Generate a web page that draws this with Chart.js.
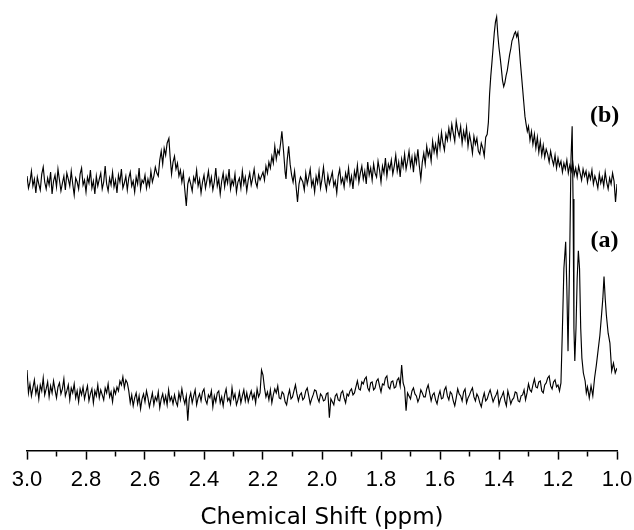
<!DOCTYPE html>
<html>
<head>
<meta charset="utf-8">
<script src="https://cdn.jsdelivr.net/npm/chart.js@4"></script>
<style>
  html, body { margin: 0; padding: 0; background: #fff; }
  #wrap { width: 634px; height: 530px; }
</style>
</head>
<body>
<div id="wrap"><canvas id="nmrCanvas" width="634" height="530"></canvas></div>
<script>
// x axis ticks (ppm), labelled every 0.2, minor ticks every 0.1
const tickLabels = ["3.0", "2.8", "2.6", "2.4", "2.2", "2.0", "1.8", "1.6", "1.4", "1.2", "1.0"];

// spectrum (b), upper trace
const shiftB = [
  3.000, 2.995, 2.990, 2.985, 2.980, 2.975, 2.970, 2.965, 2.960, 2.955,
  2.950, 2.945, 2.940, 2.935, 2.930, 2.925, 2.920, 2.915, 2.910, 2.905,
  2.900, 2.895, 2.890, 2.885, 2.880, 2.875, 2.870, 2.865, 2.860, 2.855,
  2.850, 2.845, 2.840, 2.835, 2.830, 2.825, 2.820, 2.815, 2.810, 2.805,
  2.800, 2.795, 2.790, 2.785, 2.780, 2.775, 2.770, 2.765, 2.760, 2.755,
  2.750, 2.745, 2.740, 2.735, 2.730, 2.725, 2.720, 2.715, 2.710, 2.705,
  2.700, 2.695, 2.690, 2.685, 2.680, 2.675, 2.670, 2.665, 2.660, 2.655,
  2.650, 2.645, 2.640, 2.635, 2.630, 2.625, 2.620, 2.615, 2.610, 2.605,
  2.600, 2.595, 2.590, 2.585, 2.580, 2.575, 2.570, 2.565, 2.560,
  2.555, 2.550, 2.545, 2.540, 2.535, 2.530, 2.525, 2.519, 2.515, 2.510, 2.505,
  2.500, 2.495, 2.490, 2.485, 2.480, 2.475, 2.470, 2.465, 2.460, 2.455, 2.450,
  2.445, 2.440, 2.435, 2.430, 2.425, 2.420, 2.415, 2.410, 2.405, 2.400,
  2.395, 2.390, 2.385, 2.380, 2.375, 2.370, 2.365, 2.360, 2.355, 2.350,
  2.345, 2.340, 2.335, 2.330, 2.325, 2.320, 2.315, 2.310, 2.305, 2.300,
  2.295, 2.290, 2.285, 2.280, 2.275, 2.270, 2.265, 2.260, 2.255, 2.250,
  2.245, 2.240, 2.235, 2.230, 2.225, 2.220, 2.215, 2.210,
  2.200, 2.195, 2.190, 2.185, 2.180, 2.175, 2.170, 2.165, 2.160, 2.155, 2.150, 2.145, 2.140,
  2.136, 2.130, 2.125, 2.122, 2.118, 2.113, 2.108, 2.103, 2.098, 2.093, 2.088, 2.083, 2.078, 2.073,
  2.065, 2.060, 2.055, 2.050, 2.045, 2.040, 2.035, 2.030, 2.025, 2.020,
  2.015, 2.010, 2.005, 2.000, 1.995, 1.990, 1.985, 1.980, 1.975, 1.970,
  1.965, 1.960, 1.955, 1.950, 1.945, 1.940, 1.935, 1.930, 1.925, 1.920,
  1.915, 1.910, 1.905, 1.900, 1.895, 1.890, 1.885, 1.880, 1.875, 1.870,
  1.865, 1.860, 1.855, 1.850, 1.845, 1.840, 1.835, 1.830, 1.825, 1.820,
  1.815, 1.810, 1.805, 1.800, 1.795, 1.790, 1.785, 1.780, 1.775, 1.770,
  1.765, 1.760, 1.755, 1.750, 1.745, 1.740, 1.735, 1.730, 1.725, 1.720,
  1.715, 1.710, 1.705, 1.700, 1.695, 1.690, 1.685, 1.680, 1.675, 1.670,
  1.665, 1.660, 1.655, 1.650, 1.645, 1.640, 1.635, 1.630, 1.625, 1.620,
  1.615, 1.610, 1.605, 1.600, 1.595, 1.590, 1.585, 1.580, 1.575, 1.570,
  1.565, 1.560, 1.555, 1.550, 1.545, 1.540, 1.535, 1.530, 1.525, 1.520,
  1.515, 1.510, 1.505, 1.500, 1.495, 1.490, 1.485, 1.480, 1.475, 1.470,
  1.465, 1.460, 1.455, 1.450, 1.445,
  1.440, 1.436, 1.432, 1.428, 1.424, 1.420, 1.416, 1.412, 1.408, 1.404, 1.400, 1.396,
  1.392, 1.388, 1.384, 1.380, 1.376, 1.372, 1.368, 1.364, 1.360, 1.356, 1.352, 1.348,
  1.344, 1.340, 1.336, 1.332, 1.328, 1.324, 1.320, 1.316, 1.312, 1.308, 1.304,
  1.300, 1.295, 1.290, 1.285, 1.280, 1.275, 1.270, 1.265, 1.260, 1.255,
  1.250, 1.245, 1.240, 1.235, 1.230, 1.225, 1.220, 1.215, 1.210, 1.205,
  1.200, 1.195, 1.190, 1.185, 1.180, 1.175, 1.170, 1.165, 1.160, 1.155,
  1.150, 1.145, 1.140, 1.135, 1.130, 1.125, 1.120, 1.115, 1.110, 1.105,
  1.100, 1.095, 1.090, 1.085, 1.080, 1.075, 1.070, 1.065, 1.060, 1.055,
  1.050, 1.045, 1.040, 1.035, 1.030, 1.025, 1.020, 1.015, 1.010, 1.005,
  1.000
];
const specB = [
  276, 264, 270, 281, 266, 273, 259, 275, 268, 262,
  278, 285, 270, 263, 274, 267, 280, 258, 271, 277,
  265, 283, 272, 261, 269, 276, 262, 279, 273, 266,
  281, 268, 257, 274, 270, 263, 278, 284, 267, 272,
  260, 275, 269, 282, 264, 271, 258, 276, 266, 273,
  279, 263, 270, 286, 268, 261, 274, 267, 280, 265,
  272, 259, 277, 270, 283, 264, 269, 276, 262, 274,
  280, 266, 271, 260, 275, 268, 284, 263, 272, 269,
  277, 264, 273, 266, 281, 270, 276, 285, 279,
  276, 292, 301, 288, 304, 297, 309, 314, 296, 278, 290,
  296, 283, 289, 276, 282, 270, 279, 262, 246, 268, 274,
  268, 261, 275, 270, 282, 266, 273, 259, 270, 277,
  264, 272, 281, 267, 275, 262, 270, 284, 266, 273,
  258, 271, 279, 265, 276, 269, 283, 263, 272, 267,
  278, 260, 270, 274, 264, 281, 268, 275, 261, 272,
  279, 267, 274, 283, 270, 265, 277, 272,
  280, 272, 286, 279, 290, 284, 296, 289, 306, 293, 302, 298, 310,
  321, 300, 280, 273, 292, 306, 288, 277, 270, 281, 266, 250, 268, 275,
  270, 262, 279, 268, 275, 283, 266, 272, 260, 276,
  269, 281, 264, 273, 285, 270, 262, 277, 268, 274,
  280, 266, 271, 259, 276, 283, 269, 274, 265, 279,
  272, 284, 268, 276, 263, 281, 274, 287, 270, 279,
  286, 273, 281, 268, 290, 277, 284, 272, 288, 279,
  275, 291, 282, 270, 286, 279, 294, 276, 288, 283,
  292, 278, 286, 297, 281, 290, 275, 293, 285, 298,
  283, 291, 301, 286, 295, 280, 297, 289, 303, 286,
  273, 290, 299, 288, 306, 296, 302, 291, 311, 300,
  308, 297, 315, 304, 320, 309, 302, 318, 312, 324,
  314, 328, 319, 311, 331, 322, 316, 326, 309, 321,
  313, 325, 306, 318, 310, 299, 316, 308, 314, 301,
  298, 309, 304, 296, 315,
  318, 330, 358, 376, 390, 405, 420, 431, 436, 418, 405, 395,
  384, 372, 366, 370, 377, 382, 390, 398, 404, 412, 415, 419,
  421, 416, 420, 408, 392, 378, 364, 350, 336, 328, 321,
  326, 312, 321, 308, 318, 304, 315, 300, 311, 297,
  307, 295, 303, 298, 290, 301, 293, 287, 297, 284,
  294, 286, 291, 280, 289, 283, 292, 279, 287, 281,
  290, 277, 284, 275, 286, 279, 272, 283, 276, 281,
  270, 279, 273, 282, 268, 276, 271, 264, 278, 269,
  275, 266, 280, 270, 263, 274, 268, 279, 271, 250,
  268
];

// spectrum (a), lower trace
const shiftA = [
  3.000, 2.995, 2.990, 2.985, 2.980, 2.975, 2.970, 2.965, 2.960, 2.955,
  2.950, 2.945, 2.940, 2.935, 2.930, 2.925, 2.920, 2.915, 2.910, 2.905,
  2.900, 2.895, 2.890, 2.885, 2.880, 2.875, 2.870, 2.865, 2.860, 2.855,
  2.850, 2.845, 2.840, 2.835, 2.830, 2.825, 2.820, 2.815, 2.810, 2.805,
  2.800, 2.795, 2.790, 2.785, 2.780, 2.775, 2.770, 2.765, 2.760, 2.755,
  2.750, 2.745, 2.740, 2.735, 2.730, 2.725, 2.720, 2.715, 2.710, 2.705,
  2.700, 2.695, 2.690, 2.685, 2.680, 2.675, 2.670, 2.665, 2.660, 2.655,
  2.650, 2.645, 2.640, 2.635, 2.630, 2.625, 2.620, 2.615, 2.610, 2.605,
  2.600, 2.595, 2.590, 2.585, 2.580, 2.575, 2.570, 2.565, 2.560, 2.555,
  2.550, 2.545, 2.540, 2.535, 2.530, 2.525, 2.520, 2.515, 2.510, 2.505,
  2.500, 2.495, 2.490, 2.485, 2.480, 2.475, 2.470, 2.465, 2.460, 2.455,
  2.450, 2.445, 2.440, 2.435, 2.430, 2.425, 2.420, 2.415, 2.410, 2.405,
  2.400, 2.395, 2.390, 2.385, 2.380, 2.375, 2.370, 2.365, 2.360, 2.355,
  2.350, 2.345, 2.340, 2.335, 2.330, 2.325, 2.320, 2.315, 2.310, 2.305,
  2.300, 2.295, 2.290, 2.285, 2.280, 2.275, 2.270, 2.265, 2.260, 2.255,
  2.250, 2.245, 2.240, 2.235, 2.230, 2.225, 2.220, 2.215, 2.210, 2.205,
  2.200, 2.195, 2.190, 2.185, 2.180, 2.175, 2.170, 2.165, 2.160, 2.155,
  2.150, 2.145, 2.140, 2.135, 2.130, 2.125, 2.120, 2.115, 2.110, 2.105,
  2.100, 2.095, 2.090, 2.085, 2.080, 2.075, 2.070, 2.065, 2.060, 2.055,
  2.050, 2.045, 2.040, 2.035, 2.030, 2.025, 2.020, 2.015, 2.010, 2.005,
  2.000, 1.995, 1.990, 1.985, 1.980, 1.975, 1.970, 1.965, 1.960, 1.955,
  1.950, 1.945, 1.940, 1.935, 1.930, 1.925, 1.920, 1.915, 1.910, 1.905,
  1.900, 1.895, 1.890, 1.885, 1.880, 1.875, 1.870, 1.865, 1.860, 1.855,
  1.850, 1.845, 1.840, 1.835, 1.830, 1.825, 1.820, 1.815, 1.810, 1.805,
  1.800, 1.795, 1.790, 1.785, 1.780, 1.775, 1.770, 1.765, 1.760, 1.755,
  1.750, 1.745, 1.740, 1.735, 1.730, 1.725, 1.720, 1.715, 1.710, 1.705,
  1.700, 1.695, 1.690, 1.685, 1.680, 1.675, 1.670, 1.665, 1.660, 1.655,
  1.650, 1.645, 1.640, 1.635, 1.630, 1.625, 1.620, 1.615, 1.610, 1.605,
  1.600, 1.595, 1.590, 1.585, 1.580, 1.575, 1.570, 1.565, 1.560, 1.555,
  1.550, 1.545, 1.540, 1.535, 1.530, 1.525, 1.520, 1.515, 1.510, 1.505,
  1.500, 1.495, 1.490, 1.485, 1.480, 1.475, 1.470, 1.465, 1.460, 1.455,
  1.450, 1.445, 1.440, 1.435, 1.430, 1.425, 1.420, 1.415, 1.410, 1.405,
  1.400, 1.395, 1.390, 1.385, 1.380, 1.375, 1.370, 1.365, 1.360, 1.355,
  1.350, 1.345, 1.340, 1.335, 1.330, 1.325, 1.320, 1.315, 1.310, 1.305,
  1.300, 1.295, 1.290, 1.285, 1.280, 1.275, 1.270, 1.265, 1.260, 1.255,
  1.250, 1.245, 1.240, 1.235, 1.230, 1.225, 1.220, 1.215, 1.210, 1.205,
  1.200, 1.195, 1.190,
  1.185, 1.180, 1.174, 1.170, 1.166, 1.160, 1.156, 1.152, 1.149, 1.146, 1.143, 1.139, 1.135,
  1.131, 1.127, 1.123, 1.119, 1.114, 1.108, 1.104, 1.100, 1.094, 1.088, 1.082, 1.076, 1.070,
  1.064, 1.058, 1.052, 1.048, 1.044, 1.040, 1.036, 1.030, 1.024, 1.018, 1.012, 1.006, 1.000
];
const specA = [
  81, 58, 67, 55, 63, 71, 57, 64, 52, 66,
  60, 73, 56, 62, 69, 54, 65, 58, 70, 61,
  53, 64, 68, 57, 62, 72, 55, 60, 66, 51,
  63, 58, 67, 53, 60, 49, 62, 56, 64, 52,
  59, 65, 50, 57, 62, 48, 60, 55, 66, 53,
  61, 56, 51, 63, 58, 67, 54, 59, 49, 62,
  57, 64, 60, 70, 66, 74, 63, 71, 68, 60,
  48, 56, 45, 53, 58, 47, 55, 42, 52, 57,
  49, 60, 53, 44, 51, 58, 46, 54, 50, 59,
  43, 52, 57, 48, 55, 46, 61, 50, 54, 47,
  56, 49, 45, 58, 51, 62, 53, 47, 55, 30,
  52, 58, 48, 55, 61, 46, 53, 57, 50, 59,
  62, 51, 47, 56, 53, 60, 44, 55, 49, 58,
  60, 48, 54, 45, 56, 62, 50, 53, 47, 63,
  52, 57, 46, 51, 59, 48, 55, 61, 50, 58,
  49, 55, 60, 52, 57, 48, 62, 54, 58, 81,
  76, 63, 54, 59, 51, 61, 48, 56, 62, 58,
  65, 53, 52, 59, 57, 49, 46, 55, 61, 52,
  54, 60, 66, 57, 50, 56, 58, 51, 53, 60,
  63, 55, 47, 52, 56, 61, 60, 53, 49, 57,
  55, 50, 51, 57, 58, 33, 52, 49, 46, 55,
  57, 51, 50, 58, 60, 53, 48, 57, 55, 60,
  62, 56, 58, 64, 70, 62, 61, 69, 67, 72,
  74, 63, 60, 68, 69, 61, 63, 70, 72, 65,
  59, 67, 66, 73, 75, 64, 62, 69, 70, 63,
  64, 71, 73, 65, 86, 68, 63, 40, 58, 55,
  52, 60, 63, 57, 55, 49, 53, 61, 58, 54,
  54, 62, 66, 58, 50, 56, 58, 51, 47, 55,
  60, 52, 53, 61, 64, 55, 51, 59, 57, 50,
  45, 53, 62, 57, 55, 50, 59, 62, 48, 53,
  56, 60, 63, 54, 50, 57, 54, 48, 44, 52,
  58, 50, 52, 57, 61, 55, 49, 53, 56, 60,
  46, 52, 55, 59, 50, 45, 60, 54, 47, 51,
  53, 59, 58, 50, 49, 55, 56, 61, 51, 58,
  67, 61, 59, 66, 72, 64, 63, 69, 70, 60,
  58, 66, 68, 73, 75, 65, 62, 69, 71, 64,
  66, 60, 68,
  123, 183, 210, 163, 100, 203, 293, 326, 253, 123, 90, 123, 173,
  201, 183, 123, 93, 78, 70, 58, 64, 53, 65, 55, 73, 86,
  101, 116, 138, 153, 175, 153, 136, 118, 108, 80, 88, 78, 83
];

// trace captions: text and where they sit (ppm, intensity)
const captions = ["(b)", "(a)"];
const captionShift = [1.042, 1.042];
const captionLevel = [337, 211];

function toPoints(xs, ys){
  return xs.map((x, i) => ({x: x, y: ys[i]}));
}

function isMajor(v){
  return Math.round(v * 10) % 2 === 0;
}

const captionPlugin = {
  id: "captions",
  afterDatasetsDraw(chart){
    const c = chart.ctx;
    const sx = chart.scales.x;
    const sy = chart.scales.y;
    c.save();
    c.font = 'bold 24px "Liberation Serif", "Times New Roman", serif';
    c.fillStyle = "#000";
    c.textAlign = "center";
    c.textBaseline = "middle";
    captions.forEach((t, i) => {
      c.fillText(t, sx.getPixelForValue(captionShift[i]), sy.getPixelForValue(captionLevel[i]));
    });
    c.restore();
  }
};

const ctx = document.querySelector("#nmrCanvas");

new Chart(ctx, {
  type: "line",
  data: {
    datasets: [
      {
        label: "(b)",
        data: toPoints(shiftB, specB),
        borderColor: "#000",
        borderWidth: 1.15,
        pointRadius: 0,
        tension: 0,
        fill: false,
      },
      {
        label: "(a)",
        data: toPoints(shiftA, specA),
        borderColor: "#000",
        borderWidth: 1.15,
        pointRadius: 0,
        tension: 0,
        fill: false,
      },
    ],
  },
  options: {
    responsive: false,
    animation: false,
    events: [],
    layout: {
      padding: {left: 27, right: 17, top: 0, bottom: 0},
    },
    plugins: {
      legend: {display: false},
      tooltip: {enabled: false},
    },
    scales: {
      x: {
        type: "linear",
        min: 1.0,
        max: 3.0,
        reverse: true,
        afterFit: (s) => { s.paddingLeft = 0; s.paddingRight = 0; },
        border: {display: true, color: "#000", width: 1.5},
        grid: {
          drawOnChartArea: false,
          drawTicks: true,
          tickLength: 9,
          tickColor: "#000",
          tickWidth: 1.5,
          tickBorderDash: (c) => (c.tick && !isMajor(c.tick.value)) ? [5, 40] : [],
        },
        ticks: {
          stepSize: 0.1,
          autoSkip: false,
          maxRotation: 0,
          padding: 7,
          color: "#000",
          font: {family: '"Liberation Sans", Arial, sans-serif', size: 22},
          callback: (v) => isMajor(v) ? tickLabels[Math.round((3.0 - v) * 5)] : "",
        },
        title: {
          display: true,
          text: "Chemical Shift (ppm)",
          color: "#000",
          font: {family: '"DejaVu Sans", sans-serif', size: 23, lineHeight: 1},
          padding: {top: 7, bottom: 0},
        },
      },
      y: {
        display: false,
        min: 0,
        max: 453,
      },
    },
  },
  plugins: [captionPlugin],
});
</script>
</body>
</html>
